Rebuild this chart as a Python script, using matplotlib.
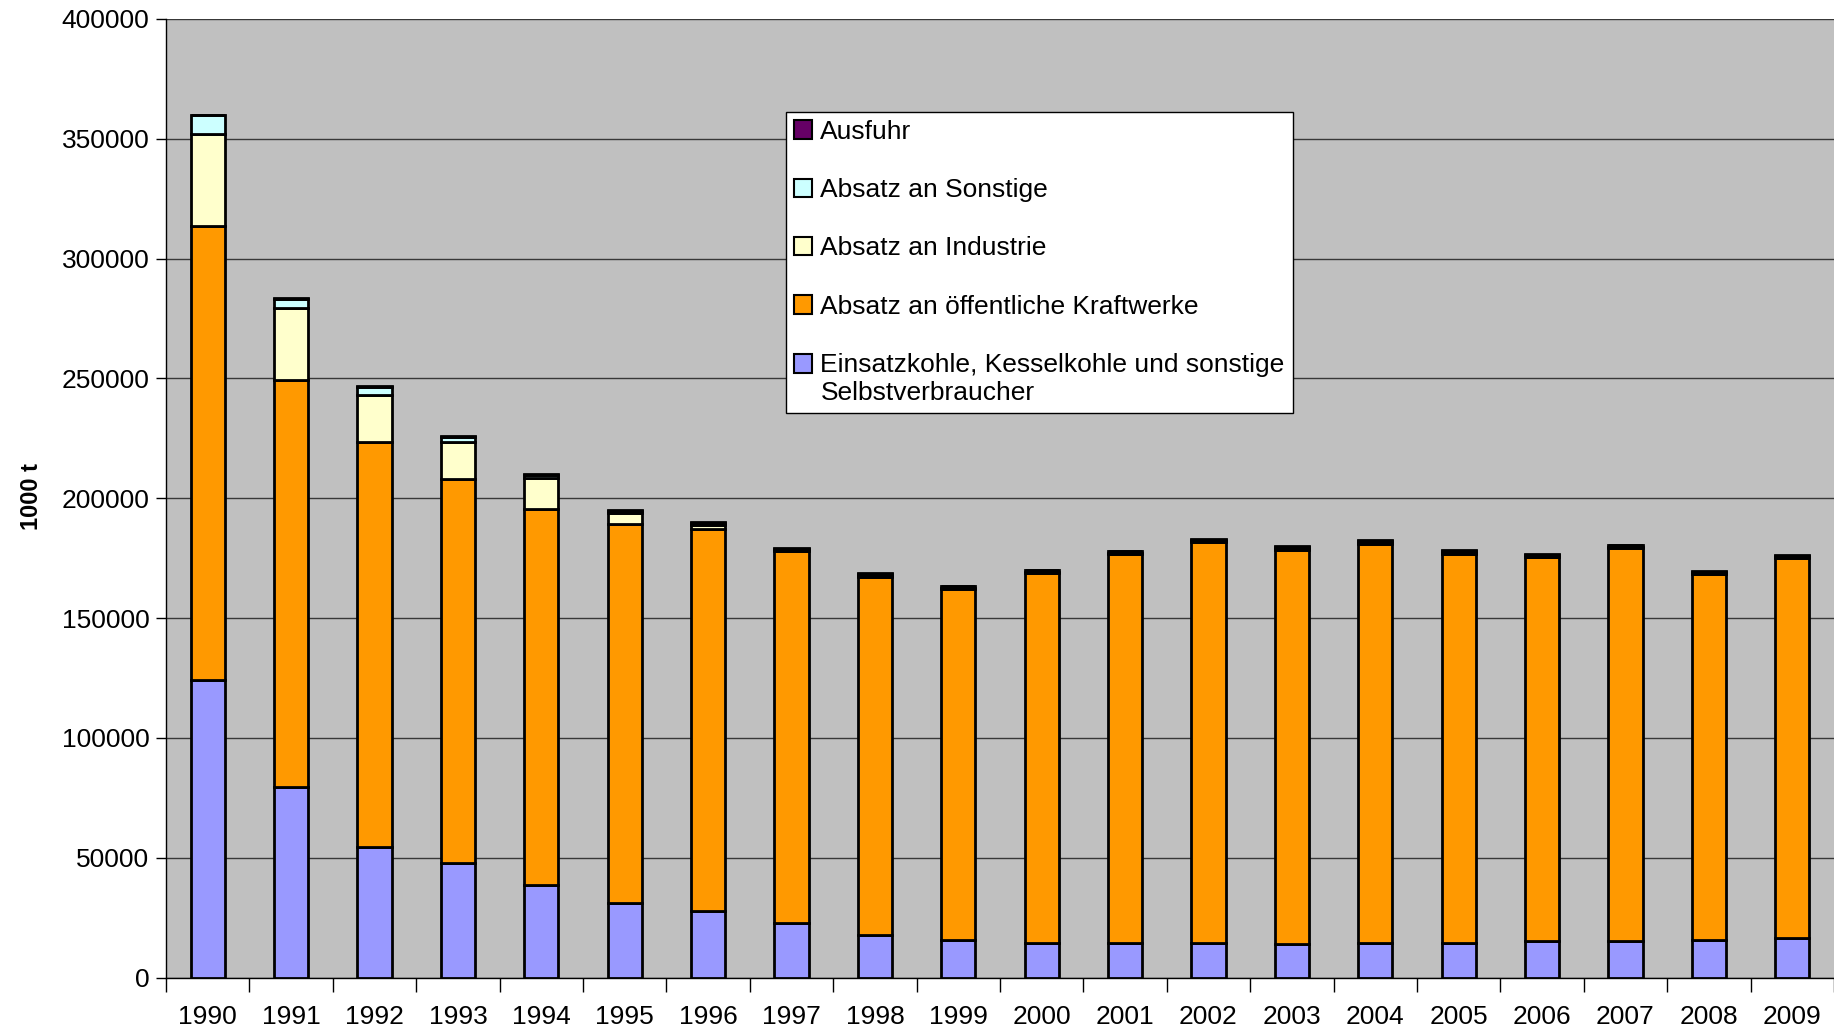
import matplotlib.pyplot as plt
import matplotlib.patches as mpatches
from matplotlib.legend_handler import HandlerPatch
import numpy as np

plt.rcParams['font.family'] = ['Liberation Sans', 'DejaVu Sans']

# Daten (1000 t)
jahre = [str(j) for j in range(1990, 2010)]
einsatz = [124000, 79600, 54700, 47800, 38600, 31200, 27800, 22900, 17600, 15600,
           14600, 14600, 14600, 14200, 14600, 14600, 15100, 15100, 15600, 16600]
kraftwerke = [189600, 169800, 168600, 160300, 157000, 158100, 159300, 154900, 149700, 146500,
              154200, 162100, 167100, 164300, 166500, 162300, 160200, 164200, 152600, 158400]
industrie = [38400, 30000, 20000, 15200, 12800, 4700, 1900, 400, 400, 400,
             400, 400, 400, 400, 400, 400, 400, 400, 400, 400]
sonstige = [7800, 3700, 3100, 2200, 1500, 800, 700, 700, 700, 700,
            700, 700, 700, 700, 700, 700, 700, 700, 700, 700]
ausfuhr = [300, 300, 300, 300, 300, 300, 300, 300, 300, 300,
           300, 300, 300, 300, 300, 300, 300, 300, 300, 300]

serien = [
    (einsatz, '#9999FF', 'Einsatzkohle, Kesselkohle und sonstige\nSelbstverbraucher'),
    (kraftwerke, '#FF9900', 'Absatz an öffentliche Kraftwerke'),
    (industrie, '#FFFFCC', 'Absatz an Industrie'),
    (sonstige, '#CCFFFF', 'Absatz an Sonstige'),
    (ausfuhr, '#660066', 'Ausfuhr'),
]

fig = plt.figure(figsize=(18.34, 10.31), dpi=100)
ax = fig.add_axes([0.0905, 0.0518, 0.9095, 0.9298])
ax.set_facecolor('#C0C0C0')

x = np.arange(len(jahre))
unten = np.zeros(len(jahre))
handles, labels = [], []
for werte, farbe, name in serien:
    bars = ax.bar(x, werte, width=0.41, bottom=unten, color=farbe, edgecolor='black',
                  linewidth=2, zorder=3)
    handles.append(bars.patches[0])
    labels.append(name)
    unten += np.array(werte)

ax.set_ylim(0, 400000)
ax.set_xlim(-0.5, len(jahre) - 0.5)
ax.set_yticks(np.arange(0, 400001, 50000))
ax.yaxis.grid(True, color='#383838', linewidth=1, zorder=0)
ax.tick_params(axis='y', labelsize=19, length=7, width=1, pad=5)

ax.set_xticks(x)
ax.set_xticklabels(jahre, fontsize=19)
ax.set_xticks(np.arange(-0.5, len(jahre), 1), minor=True)
ax.tick_params(axis='x', which='major', length=0, pad=20)
ax.tick_params(axis='x', which='minor', length=10, width=1)

for s in ['top', 'right']:
    ax.spines[s].set_visible(False)
ax.spines['left'].set_linewidth(1)
ax.spines['bottom'].set_linewidth(1)

fig.text(0.017, 0.518, '1000 t', rotation=90, fontsize=17, fontweight='bold',
         ha='center', va='center')


# Kästchen der zweizeiligen Legende auf Höhe der ersten Zeile
def oben_kasten(legend, orig_handle, xdescent, ydescent, width, height, fontsize):
    return mpatches.Rectangle((-xdescent, -ydescent + 0.6 * fontsize), width, height)


leg = ax.legend(handles[::-1], labels[::-1], loc='upper left', bbox_to_anchor=(0.4286, 0.8914),
                bbox_transform=fig.transFigure, fontsize=19, frameon=True,
                fancybox=False, edgecolor='black', framealpha=1,
                handlelength=0.7, handleheight=0.7, handletextpad=0.3,
                labelspacing=1.3, borderpad=0.3, borderaxespad=0,
                handler_map={handles[0]: HandlerPatch(patch_func=oben_kasten)})
leg.get_frame().set_linewidth(1)
for p in leg.get_patches():
    p.set_linewidth(1.5)

fig.savefig('out.png', dpi=100)
